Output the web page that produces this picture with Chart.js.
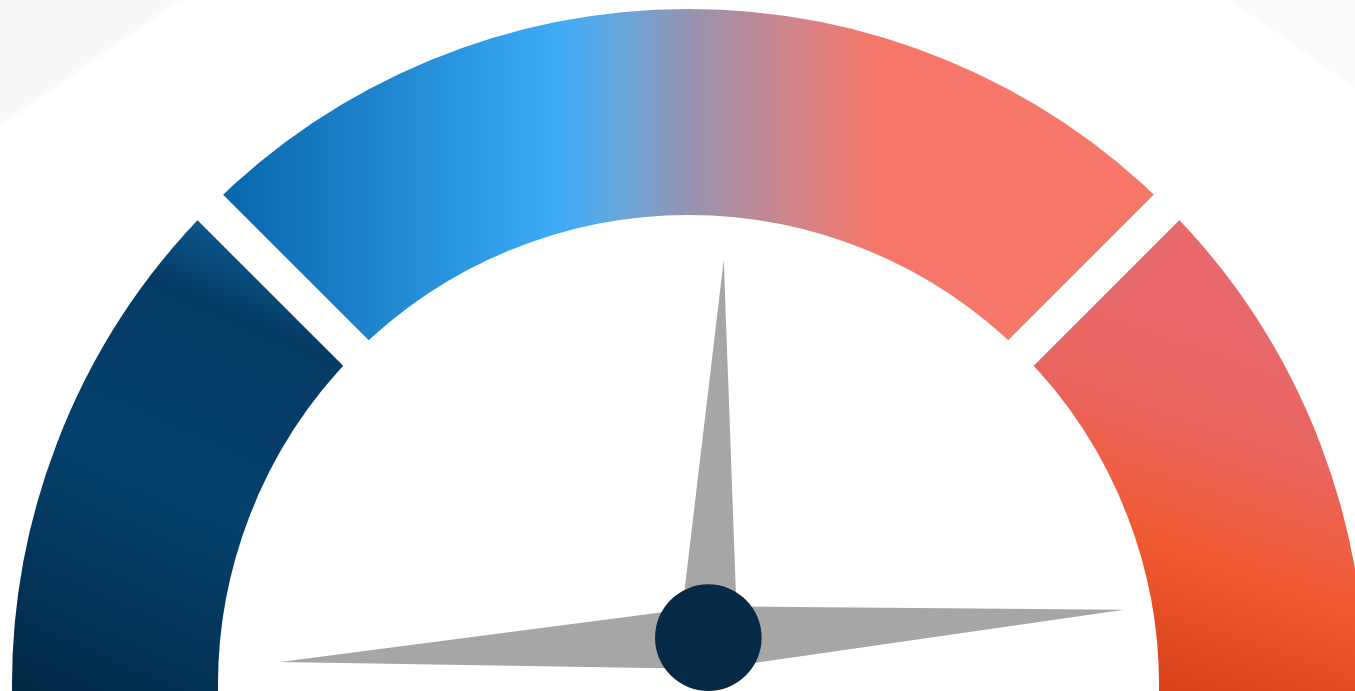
<!DOCTYPE html>
<html>
<head>
<meta charset="utf-8">
<title>Gauge</title>
<script src="https://cdn.jsdelivr.net/npm/chart.js"></script>
<style>
  html, body { margin: 0; padding: 0; overflow: hidden; }
  body {
    background:
      linear-gradient(145deg, #f6f6f6 0, #f8f8f8 100px, rgba(255,255,255,0) 106px),
      linear-gradient(215deg, #f9f9f9 0, #fafafa 70px, rgba(255,255,255,0) 74px),
      #ffffff;
  }
  #wrap { position: relative; width: 1355px; height: 713px; }
</style>
</head>
<body>
<div id="wrap"><canvas id="gauge"></canvas></div>
<script>
// dial zones, percent of the half circle, left to right
var zoneLabels = ["Low", "Medium", "High"];
var zoneValues = [25, 50, 25];
// reading under the needle, same 0-100 scale
var needleValue = [51.3];

var GAP = 36; // white gap between zones (drawn as the arc border)
var overshoot = 3; // degrees the ring runs under the bottom edge of the page
var padUnits = (overshoot / 180) * 100;

var ringData = zoneValues.map(function (v, i) {
  if (i === 0 || i === zoneValues.length - 1) return v + padUnits;
  return v;
});

var zoneFallback = ["#04416c", "#3eabf7", "#ef5a32"];

function ringGeometry(chart) {
  var area = chart.chartArea;
  var meta = chart.getDatasetMeta(0);
  var c = meta.controller;
  if (!area || !c || !isFinite(c.offsetY) || !isFinite(c.outerRadius)) return null;
  return {
    cx: (area.left + area.right) / 2 + c.offsetX,
    cy: (area.top + area.bottom) / 2 + c.offsetY,
    r: c.outerRadius - GAP / 2,
  };
}

function zoneFill(context) {
  var chart = context.chart;
  var g = ringGeometry(chart);
  if (!g) return zoneFallback[context.dataIndex];
  var ctx = chart.ctx;
  var cx = g.cx, cy = g.cy, r = g.r;
  var grad;
  if (context.dataIndex === 0) {
    grad = ctx.createLinearGradient(cx - 0.98 * r, cy, cx - 0.66 * r, cy - 0.72 * r);
    grad.addColorStop(0, "#022a47");
    grad.addColorStop(0.45, "#04416c");
    grad.addColorStop(0.8, "#043c65");
    grad.addColorStop(0.92, "#0c5489");
    grad.addColorStop(1, "#16679f");
  } else if (context.dataIndex === 1) {
    grad = ctx.createLinearGradient(cx - 0.69 * r, cy, cx + 0.69 * r, cy);
    grad.addColorStop(0, "#0866aa");
    grad.addColorStop(0.12, "#177cc3");
    grad.addColorStop(0.26, "#2b98e3");
    grad.addColorStop(0.36, "#3eabf7");
    grad.addColorStop(0.42, "#62a7df");
    grad.addColorStop(0.51, "#9c92ae");
    grad.addColorStop(0.61, "#cf8489");
    grad.addColorStop(0.7, "#f6776a");
    grad.addColorStop(1, "#f6776a");
  } else {
    grad = ctx.createLinearGradient(cx + 0.89 * r, cy - 0.52 * r, cx + 0.71 * r, cy);
    grad.addColorStop(0, "#e8686b");
    grad.addColorStop(0.3, "#ea6560");
    grad.addColorStop(0.65, "#f05a30");
    grad.addColorStop(1, "#d9421a");
  }
  return grad;
}

// needle arms: turn from the pointer direction (deg), length and half base width (share of ring radius)
var needleArms = [
  { turn: 0, len: 0.559, half: 0.0433 },
  { turn: 83.8, len: 0.616, half: 0.0466 },
  { turn: -95.6, len: 0.634, half: 0.0463 },
];

var needlePlugin = {
  id: "needle",
  afterDatasetsDraw: function (chart) {
    var g = ringGeometry(chart);
    if (!g) return;
    var meta = chart.getDatasetMeta(0);
    var first = meta.data[0];
    var last = meta.data[meta.data.length - 1];
    var sweep = last.endAngle - first.startAngle;
    var angle = first.startAngle + ((padUnits + needleValue[0]) / meta.total) * sweep;

    var hx = g.cx + 0.0293 * g.r;
    var hy = g.cy - 0.0708 * g.r;
    var ctx = chart.ctx;
    ctx.save();
    ctx.fillStyle = "#a6a6a6";
    needleArms.forEach(function (arm) {
      var a = angle + (arm.turn * Math.PI) / 180;
      var len = arm.len * g.r;
      var half = arm.half * g.r;
      var px = -Math.sin(a);
      var py = Math.cos(a);
      ctx.beginPath();
      ctx.moveTo(hx + Math.cos(a) * len, hy + Math.sin(a) * len);
      ctx.lineTo(hx + px * half, hy + py * half);
      ctx.lineTo(hx - px * half, hy - py * half);
      ctx.closePath();
      ctx.fill();
    });
    ctx.fillStyle = "#062a45";
    ctx.beginPath();
    ctx.arc(hx, hy, 0.0788 * g.r, 0, 2 * Math.PI);
    ctx.fill();
    ctx.restore();
  },
};

new Chart("gauge", {
  type: "doughnut",
  data: {
    labels: zoneLabels,
    datasets: [
      {
        data: ringData,
        backgroundColor: zoneFill,
        borderColor: "#ffffff",
        borderWidth: GAP,
      },
    ],
  },
  options: {
    responsive: true,
    maintainAspectRatio: false,
    animation: false,
    events: [],
    rotation: -90 - overshoot,
    circumference: 180 + 2 * overshoot,
    radius: 694.5,
    cutout: "65.16%",
    layout: { padding: { left: 22 } },
    plugins: {
      legend: { display: false },
      tooltip: { enabled: false },
    },
  },
  plugins: [needlePlugin],
});
</script>
</body>
</html>
